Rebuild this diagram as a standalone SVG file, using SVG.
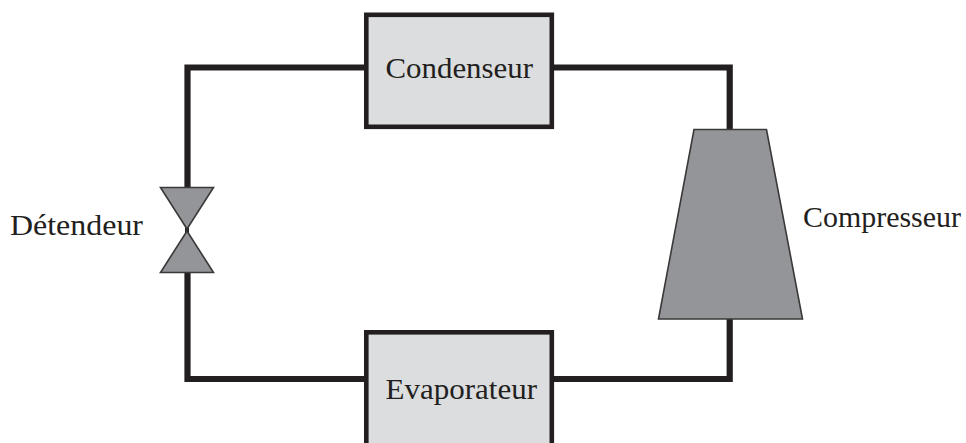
<svg xmlns="http://www.w3.org/2000/svg" width="966" height="443" viewBox="0 0 966 443">
<style>
.wire{fill:none;stroke:#231f20;stroke-width:6.2;stroke-linejoin:miter}
.box{fill:#dcddde;stroke:#231f20;stroke-width:4.6}
.dark{fill:#939598;stroke:#3a3839;stroke-width:1.6;stroke-linejoin:miter}
text{font-family:"Liberation Serif","Times New Roman",serif;font-size:30px;fill:#231f20}
</style>
<rect width="966" height="443" fill="#ffffff"/>
<g id="connectors">
<path class="wire" d="M366 67.5H187.5V188"/>
<path class="wire" d="M187.5 272V379H366"/>
<path class="wire" d="M552 67.5H729.7V130"/>
<path class="wire" d="M729.7 319V379H552"/>
<path class="wire" style="stroke-width:4" d="M187 224V234"/>
</g>
<g id="condenseur">
<rect class="box" x="366.3" y="14.8" width="185.5" height="112"/>
<text x="385.5" y="78" textLength="147.5" lengthAdjust="spacingAndGlyphs">Condenseur</text>
</g>
<g id="evaporateur">
<rect class="box" x="366.3" y="332.3" width="185.5" height="120"/>
<text x="385.5" y="399" textLength="151.5" lengthAdjust="spacingAndGlyphs">Evaporateur</text>
</g>
<g id="compresseur">
<polygon class="dark" points="694,129.5 766.5,129.5 802.5,319 658.5,319"/>
<text x="803" y="227.3" textLength="158" lengthAdjust="spacingAndGlyphs">Compresseur</text>
</g>
<g id="detendeur">
<polygon class="dark" points="160.5,187.5 213.5,187.5 187,229"/>
<polygon class="dark" points="160.5,272.5 213.5,272.5 187,231"/>
<text x="10" y="234.5" textLength="133" lengthAdjust="spacingAndGlyphs">Détendeur</text>
</g>
</svg>
